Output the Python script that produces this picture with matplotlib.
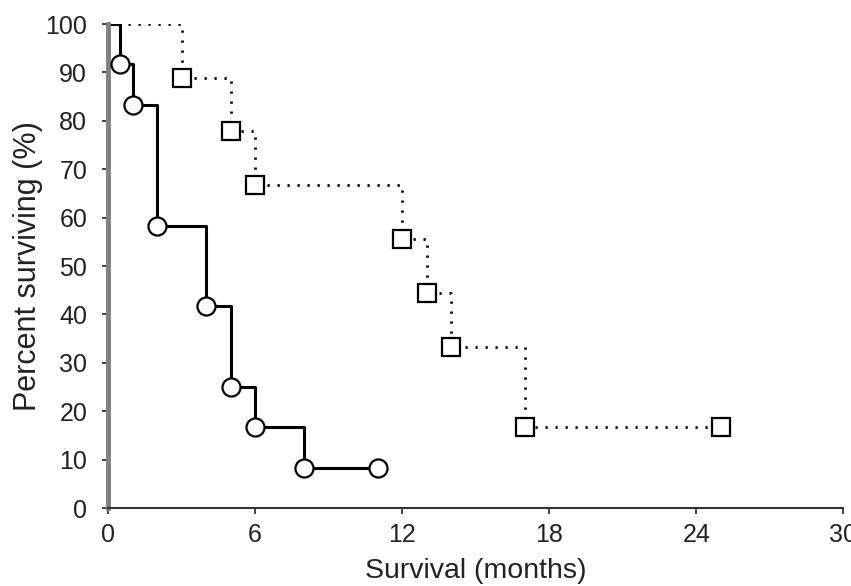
import numpy as np
import matplotlib
matplotlib.use("Agg")
import matplotlib.pyplot as plt

plt.rcParams['font.family'] = ['Liberation Sans', 'DejaVu Sans']

# solid curve (circles)
solid_t = [0, 0.5, 1, 2, 4, 5, 6, 8, 11]
solid_s = [100, 91.7, 83.3, 58.3, 41.7, 25.0, 16.7, 8.3, 8.3]

# dotted curve (squares)
dot_t = [0, 3, 5, 6, 12, 13, 14, 17, 25]
dot_s = [100, 88.9, 77.8, 66.7, 55.6, 44.4, 33.3, 16.7, 16.7]

xticks = [0, 6, 12, 18, 24, 30]
yticks = list(range(0, 101, 10))

fig = plt.figure(figsize=(8.51, 5.86), dpi=100)
ax = fig.add_axes([0.127, 0.133, 0.864, 0.826])

ax.step(dot_t, dot_s, where='post', color='black', linestyle=(0, (0.8, 2.8)), linewidth=2, zorder=2)
ax.plot(dot_t[1:], dot_s[1:], linestyle='none', marker='s', markersize=12.5,
        markerfacecolor='white', markeredgecolor='black', markeredgewidth=1.6, zorder=3)

ax.step(solid_t, solid_s, where='post', color='black', linestyle='-', linewidth=2.2, zorder=2)
ax.plot(solid_t[1:], solid_s[1:], linestyle='none', marker='o', markersize=13,
        markerfacecolor='white', markeredgecolor='black', markeredgewidth=1.6, zorder=3)

ax.set_xlim(0, 30)
ax.set_ylim(0, 100)
ax.set_xticks(xticks)
ax.set_yticks(yticks)
ax.tick_params(axis='both', labelsize=18, length=4, width=1.2, direction='out', colors='#222222')
ax.tick_params(axis='y', pad=11)
ax.tick_params(axis='x', pad=7)

ax.spines['top'].set_visible(False)
ax.spines['right'].set_visible(False)
ax.spines['left'].set_color('#808080')
ax.spines['left'].set_linewidth(3.5)
ax.spines['bottom'].set_color('#333333')
ax.spines['bottom'].set_linewidth(1.5)

ax.set_xlabel('Survival (months)', fontsize=20.5, color='#222222', labelpad=8)
ax.set_ylabel('Percent surviving (%)', fontsize=22, color='#222222', labelpad=2)

fig.savefig('out.png', dpi=100)
